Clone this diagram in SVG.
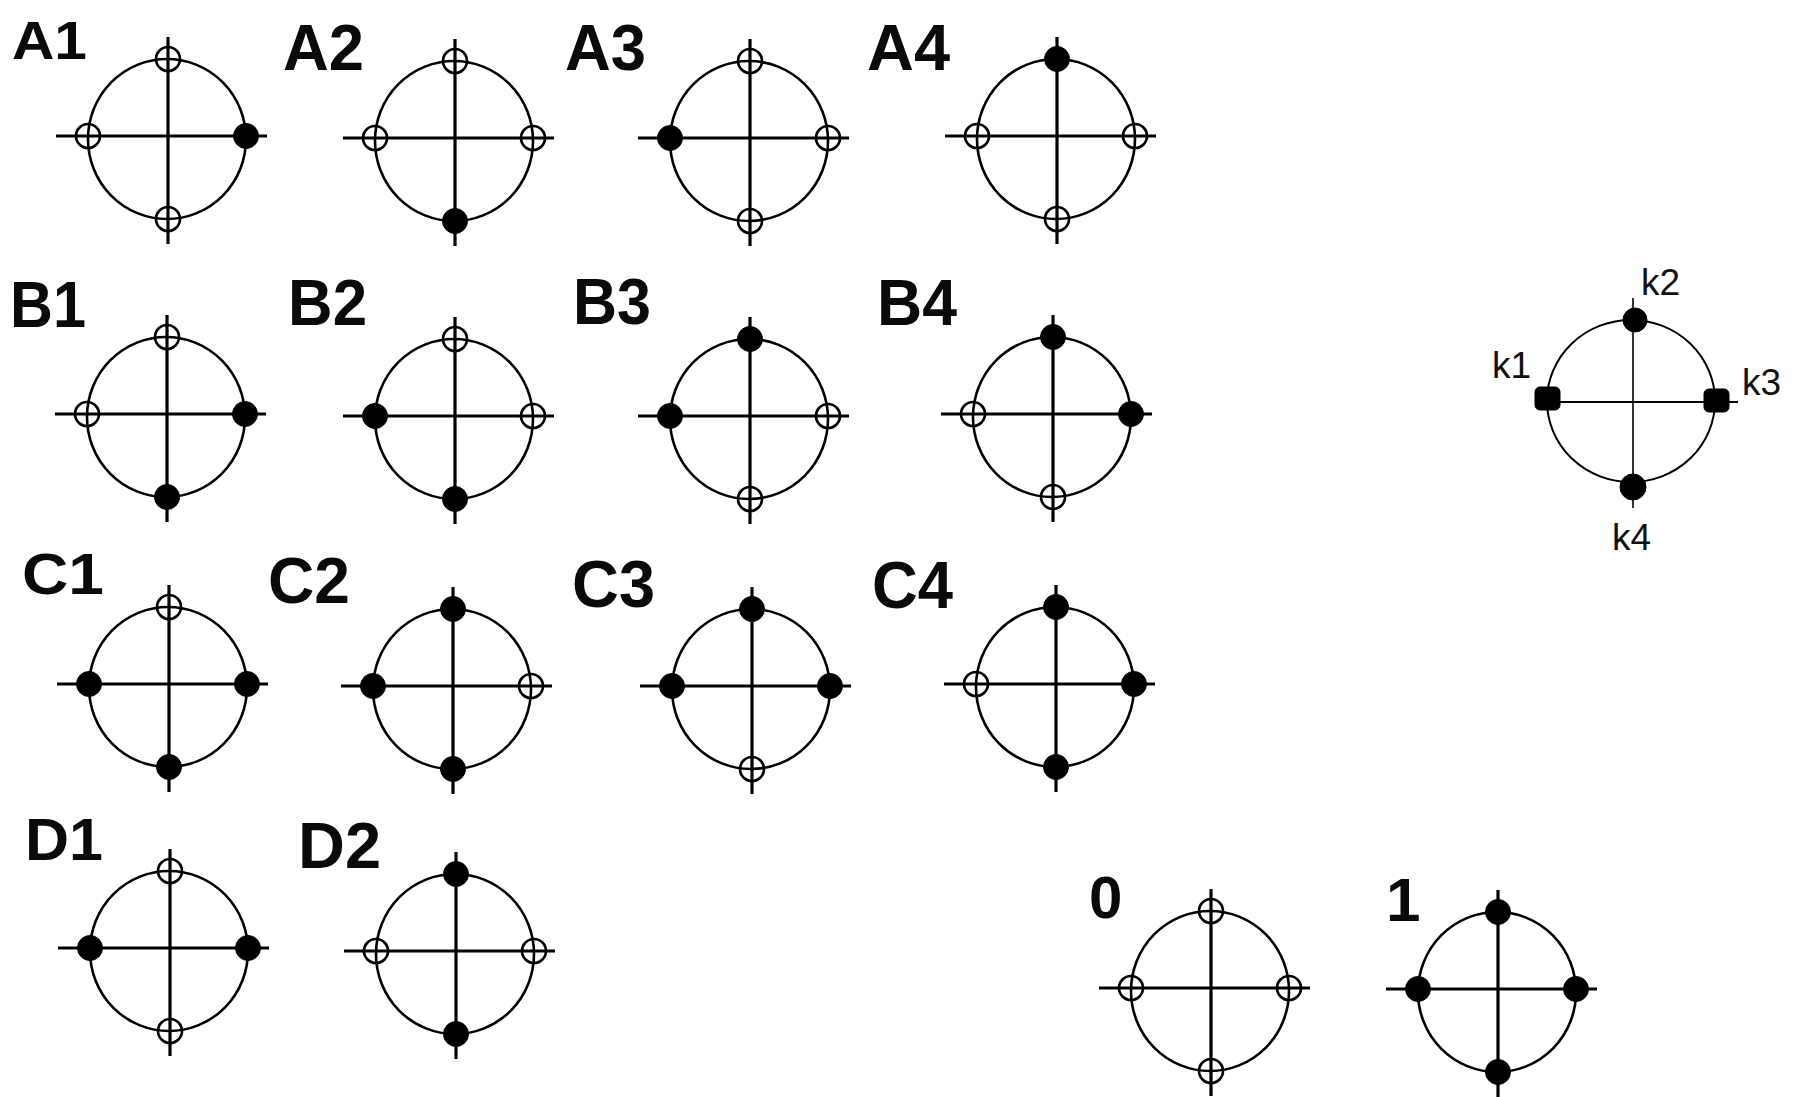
<svg xmlns="http://www.w3.org/2000/svg" width="1798" height="1097" viewBox="0 0 1798 1097">
<style>
.ring{fill:none;stroke:#000;stroke-width:2.6}
.ax{stroke:#000;stroke-width:3.2}
.o{fill:#fff;fill-opacity:0;stroke:#000;stroke-width:2.6}
.f{fill:#000;stroke:#000;stroke-width:1}
.lbl{font-family:"Liberation Sans",Arial,sans-serif;font-weight:bold;fill:#0a0a0a}
.klbl{font-family:"Liberation Sans",Arial,sans-serif;font-size:37px;fill:#111}
.kax{stroke:#000;stroke-width:2.2}
.kring{fill:none;stroke:#000;stroke-width:2}
</style>
<defs>
<ellipse id="rg" class="ring" cx="-1" cy="3" rx="79" ry="80"/>
<g id="axes"><line class="ax" x1="-112" y1="0" x2="99" y2="0"/><line class="ax" x1="0" y1="-99" x2="0" y2="108"/></g>
<circle id="mo" class="o" r="12"/>
<circle id="mf" class="f" r="12.5"/>
</defs>
<rect width="1798" height="1097" fill="#fff"/>

<g id="A1">
<text class="lbl" x="12" y="59" font-size="54" textLength="75" lengthAdjust="spacingAndGlyphs">A1</text>
<g transform="translate(168,136)"><use href="#rg"/><use href="#axes"/>
<use href="#mo" x="0" y="-77"/><use href="#mo" x="-80" y="0"/><use href="#mf" x="78" y="0"/><use href="#mo" x="0" y="83"/></g>
</g>
<g id="A2">
<text class="lbl" x="283" y="70" font-size="64" textLength="81" lengthAdjust="spacingAndGlyphs">A2</text>
<g transform="translate(455,138)"><use href="#rg"/><use href="#axes"/>
<use href="#mo" x="0" y="-77"/><use href="#mo" x="-80" y="0"/><use href="#mo" x="78" y="0"/><use href="#mf" x="0" y="83"/></g>
</g>
<g id="A3">
<text class="lbl" x="565" y="70" font-size="64" textLength="81" lengthAdjust="spacingAndGlyphs">A3</text>
<g transform="translate(750,138)"><use href="#rg"/><use href="#axes"/>
<use href="#mo" x="0" y="-77"/><use href="#mf" x="-80" y="0"/><use href="#mo" x="78" y="0"/><use href="#mo" x="0" y="83"/></g>
</g>
<g id="A4">
<text class="lbl" x="867" y="70" font-size="64" textLength="83" lengthAdjust="spacingAndGlyphs">A4</text>
<g transform="translate(1057,136)"><use href="#rg"/><use href="#axes"/>
<use href="#mf" x="0" y="-77"/><use href="#mo" x="-80" y="0"/><use href="#mo" x="78" y="0"/><use href="#mo" x="0" y="83"/></g>
</g>

<g id="B1">
<text class="lbl" x="10" y="327" font-size="64" textLength="76" lengthAdjust="spacingAndGlyphs">B1</text>
<g transform="translate(167,414)"><use href="#rg"/><use href="#axes"/>
<use href="#mo" x="0" y="-77"/><use href="#mo" x="-80" y="0"/><use href="#mf" x="78" y="0"/><use href="#mf" x="0" y="83"/></g>
</g>
<g id="B2">
<text class="lbl" x="288" y="325" font-size="64" textLength="79" lengthAdjust="spacingAndGlyphs">B2</text>
<g transform="translate(455,416)"><use href="#rg"/><use href="#axes"/>
<use href="#mo" x="0" y="-77"/><use href="#mf" x="-80" y="0"/><use href="#mo" x="78" y="0"/><use href="#mf" x="0" y="83"/></g>
</g>
<g id="B3">
<text class="lbl" x="573" y="324" font-size="64" textLength="78" lengthAdjust="spacingAndGlyphs">B3</text>
<g transform="translate(750,416)"><use href="#rg"/><use href="#axes"/>
<use href="#mf" x="0" y="-77"/><use href="#mf" x="-80" y="0"/><use href="#mo" x="78" y="0"/><use href="#mo" x="0" y="83"/></g>
</g>
<g id="B4">
<text class="lbl" x="877" y="325" font-size="64" textLength="80" lengthAdjust="spacingAndGlyphs">B4</text>
<g transform="translate(1053,414)"><use href="#rg"/><use href="#axes"/>
<use href="#mf" x="0" y="-77"/><use href="#mo" x="-80" y="0"/><use href="#mf" x="78" y="0"/><use href="#mo" x="0" y="83"/></g>
</g>

<g id="C1">
<text class="lbl" x="22" y="594" font-size="58" textLength="82" lengthAdjust="spacingAndGlyphs">C1</text>
<g transform="translate(169,684)"><use href="#rg"/><use href="#axes"/>
<use href="#mo" x="0" y="-77"/><use href="#mf" x="-80" y="0"/><use href="#mf" x="78" y="0"/><use href="#mf" x="0" y="83"/></g>
</g>
<g id="C2">
<text class="lbl" x="268" y="603" font-size="64" textLength="82" lengthAdjust="spacingAndGlyphs">C2</text>
<g transform="translate(453,686)"><use href="#rg"/><use href="#axes"/>
<use href="#mf" x="0" y="-77"/><use href="#mf" x="-80" y="0"/><use href="#mo" x="78" y="0"/><use href="#mf" x="0" y="83"/></g>
</g>
<g id="C3">
<text class="lbl" x="572" y="607" font-size="66" textLength="83" lengthAdjust="spacingAndGlyphs">C3</text>
<g transform="translate(752,686)"><use href="#rg"/><use href="#axes"/>
<use href="#mf" x="0" y="-77"/><use href="#mf" x="-80" y="0"/><use href="#mf" x="78" y="0"/><use href="#mo" x="0" y="83"/></g>
</g>
<g id="C4">
<text class="lbl" x="872" y="608" font-size="66" textLength="81" lengthAdjust="spacingAndGlyphs">C4</text>
<g transform="translate(1056,684)"><use href="#rg"/><use href="#axes"/>
<use href="#mf" x="0" y="-77"/><use href="#mo" x="-80" y="0"/><use href="#mf" x="78" y="0"/><use href="#mf" x="0" y="83"/></g>
</g>

<g id="D1">
<text class="lbl" x="25" y="860" font-size="60" textLength="78" lengthAdjust="spacingAndGlyphs">D1</text>
<g transform="translate(170,948)"><use href="#rg"/><use href="#axes"/>
<use href="#mo" x="0" y="-77"/><use href="#mf" x="-80" y="0"/><use href="#mf" x="78" y="0"/><use href="#mo" x="0" y="83"/></g>
</g>
<g id="D2">
<text class="lbl" x="298" y="868" font-size="64" textLength="83" lengthAdjust="spacingAndGlyphs">D2</text>
<g transform="translate(456,951)"><use href="#rg"/><use href="#axes"/>
<use href="#mf" x="0" y="-77"/><use href="#mo" x="-80" y="0"/><use href="#mo" x="78" y="0"/><use href="#mf" x="0" y="83"/></g>
</g>

<g id="zero">
<text class="lbl" x="1089" y="918" font-size="60">0</text>
<g transform="translate(1211,988)"><use href="#rg"/><use href="#axes"/>
<use href="#mo" x="0" y="-77"/><use href="#mo" x="-80" y="0"/><use href="#mo" x="78" y="0"/><use href="#mo" x="0" y="83"/></g>
</g>
<g id="one">
<text class="lbl" x="1386" y="921" font-size="62">1</text>
<g transform="translate(1498,989)"><use href="#rg"/><use href="#axes"/>
<use href="#mf" x="0" y="-77"/><use href="#mf" x="-80" y="0"/><use href="#mf" x="78" y="0"/><use href="#mf" x="0" y="83"/></g>
</g>

<g id="key">
<ellipse class="kring" cx="1631" cy="401" rx="84" ry="81"/>
<line class="kax" x1="1547" y1="402" x2="1738" y2="402"/>
<line class="kax" x1="1633" y1="298" x2="1633" y2="508" style="stroke-width:1.6"/>
<rect class="f" x="1535" y="387" width="25" height="23" rx="5"/>
<rect class="f" x="1704" y="389" width="25" height="23" rx="5"/>
<circle class="f" cx="1635" cy="320" r="12"/>
<circle class="f" cx="1633" cy="487" r="13"/>
<text class="klbl" x="1641" y="295">k2</text>
<text class="klbl" x="1492" y="378">k1</text>
<text class="klbl" x="1742" y="395">k3</text>
<text class="klbl" x="1612" y="550">k4</text>
</g>
</svg>
